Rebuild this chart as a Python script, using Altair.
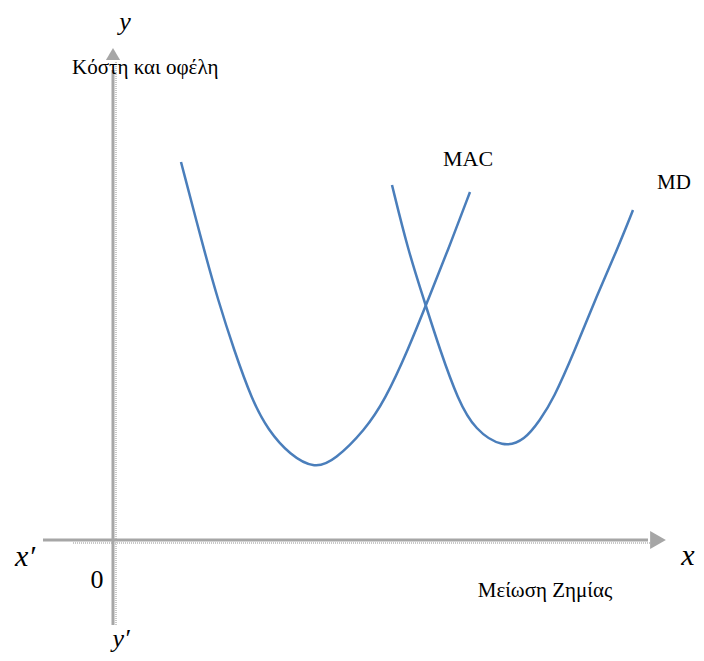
import altair as alt
import pandas as pd

# curve points (x: abatement, y: cost/benefit), arbitrary units
mac_x = [68, 91, 105, 121, 139, 155, 177, 202, 222, 252, 272, 295, 315, 335, 357]
mac_y = [378, 290, 240, 190, 140, 110, 85, 71, 80, 110, 140, 190, 240, 290, 348]
md_x = [279, 295, 311, 327, 345, 362, 390, 412, 427, 440, 462, 482, 504, 520]
md_y = [355, 290, 240, 190, 140, 110, 92, 100, 120, 140, 190, 240, 290, 330]

# axis extents
x_axis = [-70, 535]
y_axis = [-85, 478]

labels = [
    {"t": "y", "x": 12, "y": 518, "s": 26, "st": "italic", "al": "center"},
    {"t": "Κόστη και οφέλη", "x": -41, "y": 472, "s": 21, "st": "normal", "al": "left"},
    {"t": "MAC", "x": 355, "y": 381, "s": 22, "st": "normal", "al": "center"},
    {"t": "MD", "x": 561, "y": 357, "s": 21, "st": "normal", "al": "center"},
    {"t": "x′", "x": -88, "y": -17, "s": 30, "st": "italic", "al": "center"},
    {"t": "x", "x": 575, "y": -16, "s": 30, "st": "italic", "al": "center"},
    {"t": "0", "x": -16, "y": -40, "s": 26, "st": "normal", "al": "center"},
    {"t": "Μείωση Ζημίας", "x": 432, "y": -51, "s": 21, "st": "normal", "al": "center"},
    {"t": "y′", "x": 8, "y": -99, "s": 26, "st": "italic", "al": "center"},
]

X = alt.Scale(domain=[-105, 575], nice=False, zero=False)
Y = alt.Scale(domain=[-105, 532], nice=False, zero=False)
gray = "#a6a6a6"
shadow = "#c8c8c8"

curves = pd.DataFrame(
    [{"x": a, "y": b, "c": "MAC", "o": i} for i, (a, b) in enumerate(zip(mac_x, mac_y))]
    + [{"x": a, "y": b, "c": "MD", "o": i} for i, (a, b) in enumerate(zip(md_x, md_y))]
)

def enc(ch):
    return ch.encode(x=alt.X("x:Q", scale=X, axis=None), y=alt.Y("y:Q", scale=Y, axis=None))

# dotted shadows of the axes
xs = alt.Chart(pd.DataFrame({"x": [x_axis[0] + 30], "x2": [x_axis[1] + 10], "y": [-3]})).mark_rule(
    color=shadow, strokeWidth=2, strokeDash=[1, 1]).encode(
    x=alt.X("x:Q", scale=X, axis=None), x2="x2:Q", y=alt.Y("y:Q", scale=Y, axis=None))
ys = alt.Chart(pd.DataFrame({"y": [y_axis[0]], "y2": [y_axis[1]], "x": [3]})).mark_rule(
    color=shadow, strokeWidth=2, strokeDash=[1, 1]).encode(
    y=alt.Y("y:Q", scale=Y, axis=None), y2="y2:Q", x=alt.X("x:Q", scale=X, axis=None))

xa = alt.Chart(pd.DataFrame({"x": [x_axis[0]], "x2": [x_axis[1]], "y": [0]})).mark_rule(
    color=gray, strokeWidth=3).encode(
    x=alt.X("x:Q", scale=X, axis=None), x2="x2:Q", y=alt.Y("y:Q", scale=Y, axis=None))
ya = alt.Chart(pd.DataFrame({"y": [y_axis[0]], "y2": [y_axis[1] - 8], "x": [0]})).mark_rule(
    color=gray, strokeWidth=3).encode(
    y=alt.Y("y:Q", scale=Y, axis=None), y2="y2:Q", x=alt.X("x:Q", scale=X, axis=None))

xarrow = enc(alt.Chart(pd.DataFrame({"x": [x_axis[1] + 10], "y": [0]})).mark_point(
    shape="triangle-right", filled=True, color=gray, size=330, opacity=1))
yarrow = enc(alt.Chart(pd.DataFrame({"x": [0], "y": [y_axis[1] + 8]})).mark_point(
    shape="triangle-up", filled=True, color=gray, size=200, opacity=1))

lines = alt.Chart(curves).mark_line(color="#4a7ebb", strokeWidth=2.5, interpolate="basis").encode(
    x=alt.X("x:Q", scale=X, axis=None), y=alt.Y("y:Q", scale=Y, axis=None),
    detail="c:N", order="o:Q")

text_layers = []
for lab in labels:
    text_layers.append(
        alt.Chart(pd.DataFrame([lab])).mark_text(
            font="Liberation Serif", fontSize=lab["s"], fontStyle=lab["st"],
            align=lab["al"], baseline="middle", color="black").encode(
            x=alt.X("x:Q", scale=X, axis=None), y=alt.Y("y:Q", scale=Y, axis=None), text="t:N")
    )

chart = alt.layer(xs, ys, xa, ya, xarrow, yarrow, lines, *text_layers).properties(
    width=680, height=637,
    padding={"left": 0, "top": 0, "right": 8, "bottom": 8},
    autosize=alt.AutoSizeParams(type="none")
).configure_view(stroke=None)

chart.save("out.html", embed_options={"renderer": "svg", "actions": False})
